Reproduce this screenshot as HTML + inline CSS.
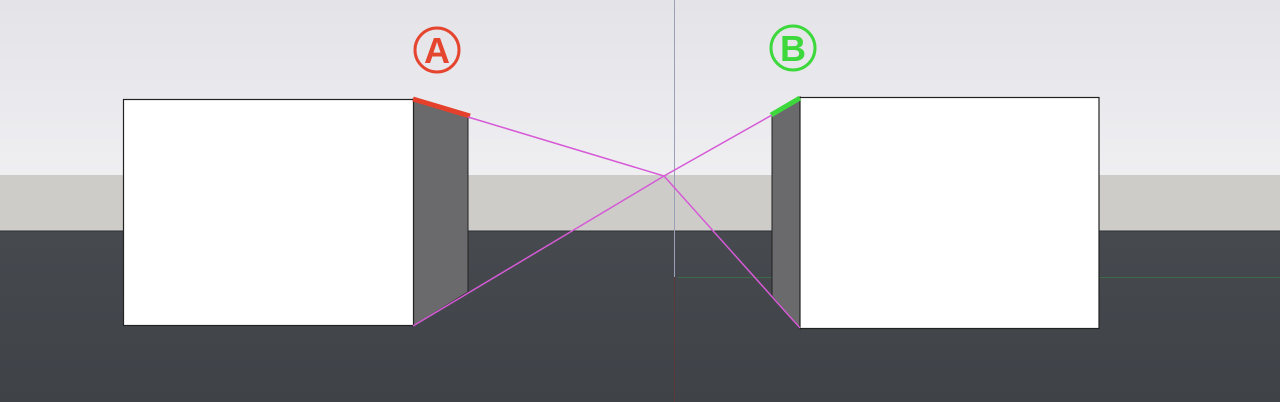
<!DOCTYPE html>
<html><head><meta charset="utf-8"><style>
html,body{margin:0;padding:0;width:1280px;height:402px;overflow:hidden;background:#41454a}
svg{display:block}
</style></head><body>
<svg width="1280" height="402" viewBox="0 0 1280 402">
<defs>
<linearGradient id="sky" x1="0" y1="0" x2="0" y2="1"><stop offset="0" stop-color="#e3e3e8"/><stop offset="1" stop-color="#efeff2"/></linearGradient>
<linearGradient id="gnd" x1="0" y1="0" x2="0" y2="1"><stop offset="0" stop-color="#464a4f"/><stop offset="1" stop-color="#3f4348"/></linearGradient>
</defs>
<rect x="0" y="0" width="1280" height="175" fill="url(#sky)"/>
<rect x="0" y="175" width="1280" height="56" fill="#cdccc9"/>
<rect x="0" y="231" width="1280" height="171" fill="url(#gnd)"/>
<line x1="0" y1="231" x2="1280" y2="231" stroke="#2c2e31" stroke-width="1"/>
<line x1="674.5" y1="0" x2="674.5" y2="277" stroke="#9aa0b8" stroke-width="1"/>
<line x1="674.5" y1="277" x2="674.5" y2="402" stroke="#5a3a3c" stroke-width="1"/>
<line x1="678" y1="277.5" x2="1280" y2="277.5" stroke="#3f6a4a" stroke-width="1"/>
<polygon points="413,99 468,116 468,292 413,326" fill="#6a696b" stroke="#222" stroke-width="1"/>
<rect x="123.5" y="99.5" width="290" height="226" fill="#fff" stroke="#222" stroke-width="1.2"/>
<polygon points="772,116 800,97 800,329 772,296" fill="#6a696b" stroke="#222" stroke-width="1"/>
<rect x="800" y="97.5" width="299" height="231" fill="#fff" stroke="#222" stroke-width="1.2"/>
<line x1="413" y1="99" x2="470" y2="116" stroke="#e5402b" stroke-width="5"/>
<line x1="771" y1="115" x2="800" y2="98" stroke="#3cd83c" stroke-width="5"/>
<polyline points="468,117 664,176 800,328" fill="none" stroke="#d65ad6" stroke-width="1.5"/>
<polyline points="413,326 664,176 772,115" fill="none" stroke="#d65ad6" stroke-width="1.5"/>
<g>
<circle cx="437" cy="50" r="22" fill="none" stroke="#e5452f" stroke-width="3"/>
<text x="437" y="63" text-anchor="middle" font-family="Liberation Sans, sans-serif" font-size="36" font-weight="bold" fill="#e5452f">A</text>
</g>
<g>
<circle cx="793" cy="48" r="22" fill="none" stroke="#3cd83c" stroke-width="3"/>
<text x="793" y="61" text-anchor="middle" font-family="Liberation Sans, sans-serif" font-size="36" font-weight="bold" fill="#3cd83c">B</text>
</g>
</svg>
</body></html>
